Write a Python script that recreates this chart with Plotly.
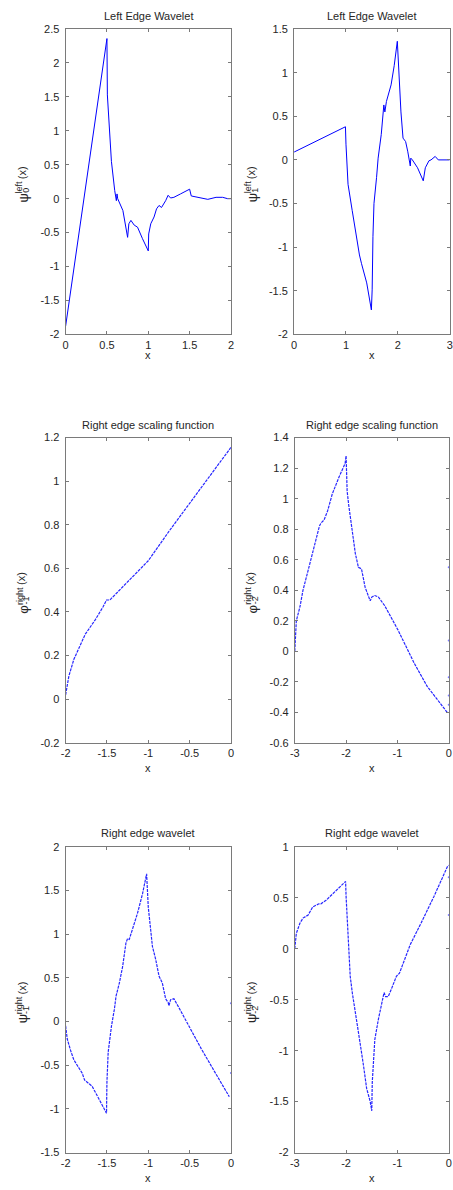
import plotly.graph_objects as go

# ---------------- data ----------------
p1_x = [0, 0.5, 0.505, 0.527, 0.554, 0.594, 0.614, 0.622, 0.63, 0.693, 0.75, 0.765, 0.79, 0.83, 0.87,
        0.93, 1.0, 1.005, 1.03, 1.07, 1.10, 1.13, 1.16, 1.21, 1.24, 1.27, 1.31, 1.39, 1.5, 1.52, 1.6,
        1.72, 1.82, 1.9, 1.96, 2.0]
p1_y = [-1.88, 2.36, 1.53, 1.03, 0.55, 0.12, -0.03, 0.07, 0.0, -0.175, -0.57, -0.37, -0.32, -0.39, -0.42,
        -0.59, -0.77, -0.52, -0.37, -0.27, -0.15, -0.10, -0.13, -0.03, 0.05, 0.01, 0.02, 0.07, 0.14, 0.04, 0.02,
        -0.01, 0.02, 0.02, 0.0, 0.0]

p2_x = [0, 0.99, 1.0, 1.04, 1.12, 1.18, 1.24, 1.26, 1.30, 1.40, 1.49, 1.505, 1.52, 1.54, 1.59, 1.62, 1.68,
        1.73, 1.75, 1.78, 1.87, 1.93, 1.99, 2.01, 2.06, 2.10, 2.15, 2.19, 2.24, 2.25, 2.28, 2.38, 2.49, 2.53,
        2.60, 2.64, 2.69, 2.72, 2.78, 2.88, 3.0]
p2_y = [0.09, 0.38, 0.18, -0.28, -0.58, -0.81, -1.05, -1.09, -1.19, -1.41, -1.72, -1.49, -0.88, -0.50, -0.20,
        0.02, 0.29, 0.63, 0.55, 0.67, 0.86, 1.08, 1.36, 1.12, 0.55, 0.25, 0.21, 0.10, -0.07, 0.02, 0.0, -0.09,
        -0.24, -0.09, -0.01, 0.0, 0.02, 0.04, 0.0, 0.0, 0.0]

p3_x = [-2, -1.96, -1.90, -1.84, -1.76, -1.74, -1.64, -1.545, -1.505, -1.465, -1.35, -1.25, -1.0, -0.75,
        -0.5, 0]
p3_y = [0.02, 0.107, 0.183, 0.236, 0.30, 0.31, 0.365, 0.425, 0.455, 0.455, 0.50, 0.54, 0.635, 0.77,
        0.90, 1.155]

p4_x = [-3, -2.99, -2.97, -2.90, -2.84, -2.74, -2.71, -2.62, -2.52, -2.49, -2.43, -2.36, -2.27, -2.14,
        -2.02, -2.0, -1.98, -1.95, -1.88, -1.82, -1.76, -1.70, -1.63, -1.53, -1.5, -1.44, -1.37, -1.25,
        -0.99, -0.67, -0.42, -0.16, -0.02]
p4_y = [0.0, 0.12, 0.20, 0.29, 0.40, 0.53, 0.57, 0.68, 0.82, 0.84, 0.86, 0.92, 1.03, 1.14, 1.23, 1.28,
        1.05, 0.96, 0.79, 0.64, 0.55, 0.54, 0.42, 0.33, 0.355, 0.365, 0.355, 0.30, 0.14, -0.08, -0.23,
        -0.34, -0.405]
p4_out_x = [0, 0, 0, 0, 0]
p4_out_y = [0.55, 0.07, -0.17, -0.29, -0.35]

p5_x = [-2, -1.98, -1.94, -1.90, -1.86, -1.80, -1.77, -1.74, -1.68, -1.60, -1.525, -1.505, -1.503, -1.50,
        -1.485, -1.465, -1.445, -1.41, -1.39, -1.35, -1.31, -1.27, -1.25, -1.23, -1.19, -1.13, -1.07,
        -1.04, -1.02, -1.0, -0.98, -0.95, -0.91, -0.87, -0.83, -0.79, -0.76, -0.75, -0.73, -0.69, -0.63,
        -0.51, -0.36, -0.20, -0.02]
p5_y = [-0.05, -0.20, -0.33, -0.44, -0.50, -0.59, -0.67, -0.69, -0.74, -0.88, -1.01, -1.05, -0.88, -0.69,
        -0.35, -0.16, -0.05, 0.14, 0.29, 0.44, 0.63, 0.90, 0.95, 0.94, 1.05, 1.24, 1.46, 1.58, 1.69, 1.31,
        1.09, 0.86, 0.71, 0.52, 0.44, 0.26, 0.22, 0.18, 0.25, 0.26, 0.16, -0.05, -0.31, -0.57, -0.86]
p5_out_x = [0, 0]
p5_out_y = [0.21, -0.59]

p6_x = [-3, -2.97, -2.90, -2.84, -2.74, -2.65, -2.53, -2.49, -2.39, -2.20, -2.01, -2.0, -1.98, -1.95,
        -1.92, -1.88, -1.83, -1.79, -1.72, -1.66, -1.60, -1.53, -1.50, -1.49, -1.47, -1.44, -1.37, -1.31,
        -1.26, -1.23, -1.18, -1.12, -1.02, -0.96, -0.86, -0.75, -0.54, -0.29, -0.03, 0.0]
p6_y = [0.0, 0.15, 0.25, 0.30, 0.33, 0.41, 0.44, 0.44, 0.475, 0.57, 0.66, 0.51, 0.31, -0.08, -0.27, -0.43,
        -0.60, -0.76, -0.95, -1.15, -1.37, -1.50, -1.59, -1.31, -1.08, -0.89, -0.69, -0.56, -0.43, -0.47,
        -0.47, -0.40, -0.27, -0.24, -0.11, 0.04, 0.25, 0.51, 0.80, 0.82]
p6_out_x = [0, 0]
p6_out_y = [0.70, 0.33]

# tick values / labels
x1_ticks = [0, 0.5, 1, 1.5, 2]
x1_text = ["0", "0.5", "1", "1.5", "2"]
y1_ticks = [-2, -1.5, -1, -0.5, 0, 0.5, 1, 1.5, 2, 2.5]
y1_text = ["-2", "-1.5", "-1", "-0.5", "0", "0.5", "1", "1.5", "2", "2.5"]
x2_ticks = [0, 1, 2, 3]
x2_text = ["0", "1", "2", "3"]
y2_ticks = [-2, -1.5, -1, -0.5, 0, 0.5, 1, 1.5]
y2_text = ["-2", "-1.5", "-1", "-0.5", "0", "0.5", "1", "1.5"]
x3_ticks = [-2, -1.5, -1, -0.5, 0]
x3_text = ["-2", "-1.5", "-1", "-0.5", "0"]
y3_ticks = [-0.2, 0, 0.2, 0.4, 0.6, 0.8, 1.0, 1.2]
y3_text = ["-0.2", "0", "0.2", "0.4", "0.6", "0.8", "1", "1.2"]
x4_ticks = [-3, -2, -1, 0]
x4_text = ["-3", "-2", "-1", "0"]
y4_ticks = [-0.6, -0.4, -0.2, 0, 0.2, 0.4, 0.6, 0.8, 1.0, 1.2, 1.4]
y4_text = ["-0.6", "-0.4", "-0.2", "0", "0.2", "0.4", "0.6", "0.8", "1", "1.2", "1.4"]
x5_ticks = [-2, -1.5, -1, -0.5, 0]
x5_text = ["-2", "-1.5", "-1", "-0.5", "0"]
y5_ticks = [-1.5, -1, -0.5, 0, 0.5, 1, 1.5, 2]
y5_text = ["-1.5", "-1", "-0.5", "0", "0.5", "1", "1.5", "2"]
x6_ticks = [-3, -2, -1, 0]
x6_text = ["-3", "-2", "-1", "0"]
y6_ticks = [-2, -1.5, -1, -0.5, 0, 0.5, 1]
y6_text = ["-2", "-1.5", "-1", "-0.5", "0", "0.5", "1"]

titles = ["Left Edge Wavelet", "Left Edge Wavelet", "Right edge scaling function",
          "Right edge scaling function", "Right edge wavelet", "Right edge wavelet"]
sym = ["ψ", "ψ", "φ", "φ", "ψ", "ψ"]
sups = ["left", "left", "right", "right", "right", "right"]
subs = ["0", "1", "-1", "-2", "-1", "-2"]

# ---------------- layout geometry (pixels) ----------------
W, H = 453, 1190
boxes = [  # (x0, x1, ytop, ybottom)
    (61.7, 230.0, 23.3, 331.7),
    (294.3, 452.7, 23.3, 331.7),
    (61.7, 230.0, 436.0, 744.3),
    (295.0, 451.7, 436.0, 744.3),
    (61.7, 230.0, 849.3, 1158.3),
    (295.0, 451.7, 849.3, 1158.3),
]
ranges = [
    ((0, 2), (-2, 2.5)), ((0, 3), (-2, 1.5)), ((-2, 0), (-0.2, 1.2)),
    ((-3, 0), (-0.6, 1.4)), ((-2, 0), (-1.5, 2)), ((-3, 0), (-2, 1)),
]
xticks = [(x1_ticks, x1_text), (x2_ticks, x2_text), (x3_ticks, x3_text),
          (x4_ticks, x4_text), (x5_ticks, x5_text), (x6_ticks, x6_text)]
yticks = [(y1_ticks, y1_text), (y2_ticks, y2_text), (y3_ticks, y3_text),
          (y4_ticks, y4_text), (y5_ticks, y5_text), (y6_ticks, y6_text)]
title_y = [10, 10, 423, 423, 835.5, 835.5]
xlab_y = [352.5, 352.5, 770, 770, 1183.5, 1183.5]
ylab_x = [18.5, 251.5, 18.5, 251.5, 18.5, 251.5]

FONT = "Liberation Sans, Arial, Helvetica, sans-serif"
AX = "#7a7a7a"
TXT = "#262626"
BLUE = "#0000ff"

# approximate Arial advance widths (em) for the label pieces
CW = {"l": .222, "e": .556, "f": .278, "t": .278, "r": .333, "i": .222, "g": .556, "h": .556,
      "-": .333, "0": .556, "1": .556, "2": .556}


def tw(s, size):
    return sum(CW.get(c, .556) for c in s) * size


def px(x):
    return x / W


def py(y):
    return 1 - y / H


fig = go.Figure()

series = [(p1_x, p1_y, None, None), (p2_x, p2_y, None, None), (p3_x, p3_y, None, None),
          (p4_x, p4_y, p4_out_x, p4_out_y), (p5_x, p5_y, p5_out_x, p5_out_y),
          (p6_x, p6_y, p6_out_x, p6_out_y)]

annotations = []
for i, (sx, sy, ox, oy) in enumerate(series):
    n = "" if i == 0 else str(i + 1)
    xa, ya = "x" + n, "y" + n
    if i < 2:
        line = dict(color=BLUE, width=1)
    else:
        line = dict(color="rgba(0,0,255,0.85)", width=1.2, dash="3px,1px")
    fig.add_trace(go.Scatter(x=sx, y=sy, mode="lines", line=line, xaxis=xa, yaxis=ya,
                             showlegend=False, hoverinfo="skip"))
    if ox is not None:
        fig.add_trace(go.Scatter(x=ox, y=oy, mode="markers", xaxis=xa, yaxis=ya,
                                 marker=dict(color="rgba(90,90,255,0.8)", size=2),
                                 showlegend=False, hoverinfo="skip", cliponaxis=False))
    x0, x1, yt, yb = boxes[i]
    common = dict(ticks="inside", ticklen=3, tickcolor=AX, showline=True, linecolor=AX,
                  linewidth=1, mirror="ticks", showgrid=False, zeroline=False,
                  tickfont=dict(family=FONT, size=11, color=TXT), ticklabeloverflow="allow",
                  fixedrange=True)
    fig.update_layout(**{
        ("xaxis" + n): dict(domain=[px(x0), px(x1)], range=list(ranges[i][0]), anchor=ya,
                            tickvals=xticks[i][0], ticktext=xticks[i][1], **common),
        ("yaxis" + n): dict(domain=[py(yb), py(yt)], range=list(ranges[i][1]), anchor=xa,
                            tickvals=yticks[i][0], ticktext=yticks[i][1],
                            ticklabelstandoff=3, **common),
    })
    cx = (x0 + x1) / 2
    # title
    annotations.append(dict(text=titles[i], x=px(cx), y=py(title_y[i]), xref="paper", yref="paper",
                            showarrow=False, xanchor="center", yanchor="middle",
                            font=dict(family=FONT, size=11, color=TXT)))
    # x label
    annotations.append(dict(text="x", x=px(cx), y=py(xlab_y[i]), xref="paper", yref="paper",
                            showarrow=False, xanchor="center", yanchor="middle",
                            font=dict(family=FONT, size=11, color=TXT)))
    # y label built from pieces (symbol, stacked super/subscript, "(x)")
    cyc = (yt + yb) / 2 + 3
    w_sym, w_par = 10.5, 13.5
    w_sup = tw(sups[i], 9)
    w_sub = tw(subs[i], 9)
    w_stack = max(w_sup, w_sub) + 2
    total = w_sym + w_stack + w_par
    bottom = cyc + total / 2
    lx = ylab_x[i]
    annotations.append(dict(text=sym[i], x=px(lx), y=py(bottom - w_sym / 2), xref="paper", yref="paper",
                            showarrow=False, xanchor="center", yanchor="middle", textangle=-90,
                            font=dict(family=FONT, size=13, color=TXT)))
    sb = bottom - w_sym
    annotations.append(dict(text=sups[i], x=px(lx - 4), y=py(sb - w_sup / 2), xref="paper",
                            yref="paper", showarrow=False, xanchor="center", yanchor="middle",
                            textangle=-90, font=dict(family=FONT, size=9, color=TXT)))
    annotations.append(dict(text=subs[i], x=px(lx + 3), y=py(sb - w_sub / 2), xref="paper",
                            yref="paper", showarrow=False, xanchor="center", yanchor="middle",
                            textangle=-90, font=dict(family=FONT, size=9, color=TXT)))
    annotations.append(dict(text="(x)", x=px(lx - 1.5), y=py(sb - w_stack - w_par / 2), xref="paper",
                            yref="paper", showarrow=False, xanchor="center", yanchor="middle",
                            textangle=-90, font=dict(family=FONT, size=11, color=TXT)))

fig.update_layout(width=W, height=H, autosize=False, margin=dict(l=0, r=0, t=0, b=0),
                  paper_bgcolor="white", plot_bgcolor="white", annotations=annotations,
                  font=dict(family=FONT, color=TXT))

fig.write_html("out.html", config={"displayModeBar": False, "responsive": False},
               post_script="document.body.style.margin='0';document.body.style.padding='0';"
                           "document.body.style.overflow='hidden';"
                           "document.documentElement.style.overflow='hidden';")
